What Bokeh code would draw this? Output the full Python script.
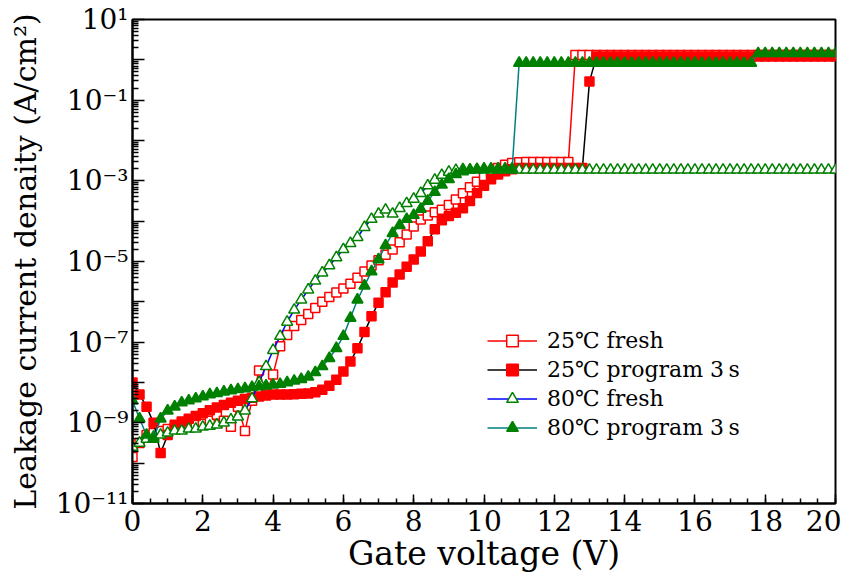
from bokeh.plotting import figure
from bokeh.models import FixedTicker, CustomJSTickFormatter, Legend, LegendItem, Range1d
from bokeh.embed import file_html
from bokeh.resources import INLINE

# Gate voltage sweep (V)
voltage = [
    0.0, 0.2, 0.4, 0.6, 0.8, 1.0, 1.2, 1.4, 1.6, 1.8,
    2.0, 2.2, 2.4, 2.6, 2.8, 3.0, 3.2, 3.4, 3.6, 3.8,
    4.0, 4.2, 4.4, 4.6, 4.8, 5.0, 5.2, 5.4, 5.6, 5.8,
    6.0, 6.2, 6.4, 6.6, 6.8, 7.0, 7.2, 7.4, 7.6, 7.8,
    8.0, 8.2, 8.4, 8.6, 8.8, 9.0, 9.2, 9.4, 9.6, 9.8,
    10.0, 10.2, 10.4, 10.6, 10.8, 11.0, 11.2, 11.4, 11.6, 11.8,
    12.0, 12.2, 12.4, 12.6, 12.8, 13.0, 13.2, 13.4, 13.6, 13.8,
    14.0, 14.2, 14.4, 14.6, 14.8, 15.0, 15.2, 15.4, 15.6, 15.8,
    16.0, 16.2, 16.4, 16.6, 16.8, 17.0, 17.2, 17.4, 17.6, 17.8,
    18.0, 18.2, 18.4, 18.6, 18.8, 19.0, 19.2, 19.4, 19.6, 19.8,
    20.0,
]

# log10 of leakage current density (A/cm^2)
log10_j_25_fresh = [
    -9.85, -9.5, -9.3, -9.25, -9.2, -9.15, -9.12, -9.1, -9.07, -9.05,
    -9.02, -8.95, -8.8, -8.95, -9.1, -8.6, -9.2, -8.45, -7.7, -8.3,
    -7.8, -7.1, -6.82, -6.6, -6.45, -6.3, -6.15, -6.0, -5.88, -5.77,
    -5.67, -5.55, -5.4, -5.25, -5.1, -4.97, -4.83, -4.7, -4.52, -4.33,
    -4.13, -3.96, -3.86, -3.78, -3.72, -3.6, -3.46, -3.31, -3.16, -3.02,
    -2.88, -2.78, -2.68, -2.6, -2.56, -2.54, -2.53, -2.53, -2.53, -2.53,
    -2.53, -2.53, -2.53, 0.12, 0.12, 0.12, 0.12, 0.12, 0.12, 0.12,
    0.12, 0.12, 0.12, 0.12, 0.12, 0.12, 0.12, 0.12, 0.12, 0.12,
    0.12, 0.12, 0.12, 0.12, 0.12, 0.12, 0.12, 0.12, 0.12, 0.12,
    0.12, 0.12, 0.12, 0.12, 0.12, 0.12, 0.12, 0.12, 0.12, 0.12,
    0.12,
]
log10_j_25_program = [
    -8.0, -8.3, -8.6, -9.0, -9.75, -9.3, -9.05, -8.97, -8.9, -8.83,
    -8.76, -8.69, -8.62, -8.56, -8.5, -8.45, -8.41, -8.38, -8.35, -8.32,
    -8.3, -8.3, -8.3, -8.29, -8.28, -8.27, -8.24, -8.18, -8.08, -7.93,
    -7.73, -7.48, -7.15, -6.75, -6.36, -6.02, -5.76, -5.52, -5.32, -5.13,
    -4.95, -4.75, -4.5, -4.2, -3.98, -3.87, -3.79, -3.68, -3.5, -3.3,
    -3.12, -2.96, -2.84, -2.76, -2.71, -2.68, -2.68, -2.68, -2.68, -2.68,
    -2.68, -2.68, -2.68, -2.68, -2.68, -0.54, 0.08, 0.08, 0.08, 0.08,
    0.08, 0.08, 0.08, 0.08, 0.08, 0.08, 0.08, 0.08, 0.08, 0.08,
    0.08, 0.08, 0.08, 0.08, 0.08, 0.08, 0.08, 0.08, 0.08, 0.08,
    0.08, 0.08, 0.08, 0.08, 0.08, 0.08, 0.08, 0.08, 0.08, 0.08,
    0.08,
]
log10_j_80_fresh = [
    -9.6, -9.5, -9.4, -9.35, -9.3, -9.25, -9.2, -9.2, -9.15, -9.15,
    -9.1, -9.08, -9.05, -9.0, -8.92, -8.85, -8.7, -8.4, -8.0, -7.6,
    -7.2, -6.85, -6.5, -6.2, -5.95, -5.7, -5.48, -5.28, -5.1, -4.9,
    -4.7, -4.55, -4.4, -4.15, -3.95, -3.82, -3.72, -3.82, -3.68, -3.56,
    -3.45, -3.31, -3.12, -2.98, -2.86, -2.78, -2.74, -2.72, -2.73, -2.73,
    -2.73, -2.73, -2.73, -2.73, -2.73, -2.73, -2.73, -2.73, -2.73, -2.73,
    -2.73, -2.73, -2.73, -2.73, -2.73, -2.73, -2.73, -2.73, -2.73, -2.73,
    -2.73, -2.73, -2.73, -2.73, -2.73, -2.73, -2.73, -2.73, -2.73, -2.73,
    -2.73, -2.73, -2.73, -2.73, -2.73, -2.73, -2.73, -2.73, -2.73, -2.73,
    -2.73, -2.73, -2.73, -2.73, -2.73, -2.73, -2.73, -2.73, -2.73, -2.73,
    -2.73,
]
log10_j_80_program = [
    -8.45, -8.9, -9.3, -9.4, -8.9, -8.7, -8.6, -8.5, -8.45, -8.4,
    -8.35, -8.3, -8.27, -8.23, -8.2, -8.17, -8.15, -8.12, -8.1, -8.08,
    -8.06, -8.04, -8.0, -7.96, -7.92, -7.86, -7.75, -7.6, -7.4, -7.15,
    -6.85, -6.4, -5.95, -5.6, -5.25, -4.95, -4.6, -4.3, -4.1, -3.95,
    -3.85, -3.7, -3.5, -3.28, -3.1, -2.96, -2.84, -2.77, -2.73, -2.71,
    -2.7, -2.7, -2.7, -2.7, -2.7, -0.08, -0.08, -0.08, -0.08, -0.08,
    -0.08, -0.08, -0.08, -0.08, -0.08, -0.08, -0.08, -0.08, -0.08, -0.08,
    -0.08, -0.08, -0.08, -0.08, -0.08, -0.08, -0.08, -0.08, -0.08, -0.08,
    -0.08, -0.08, -0.08, -0.08, -0.08, -0.08, -0.08, -0.08, -0.08, 0.16,
    0.16, 0.16, 0.16, 0.16, 0.16, 0.16, 0.16, 0.16, 0.16, 0.16,
    0.16,
]

labels = ["25\u2103 fresh", "25\u2103 program 3\u2009s", "80\u2103 fresh", "80\u2103 program 3\u2009s"]
x_major_ticks = [0, 2, 4, 6, 8, 10, 12, 14, 16, 18, 20]
y_exponents = list(range(-11, 2))

FONT = "DejaVu Serif"

p = figure(width=841, height=576, output_backend="svg", toolbar_location=None,
           y_axis_type="log", x_range=Range1d(0, 20), y_range=Range1d(1e-11, 10),
           min_border_left=132, min_border_right=6, min_border_top=19, min_border_bottom=73,
           background_fill_color="white", border_fill_color="white")
p.grid.visible = False
p.outline_line_color = "black"
p.outline_line_width = 2
p.outline_line_alpha = 1

series = [
    (log10_j_25_fresh, "red", "square", "white", "red", 9),
    (log10_j_25_program, "black", "square", "red", "red", 9),
    (log10_j_80_fresh, "blue", "triangle", "white", "green", 11),
    (log10_j_80_program, "teal", "triangle", "green", "green", 11),
]

items = []
for (logs, lcol, mk, fcol, mcol, sz), lab in zip(series, labels):
    j = [10 ** v for v in logs]
    lr = p.line(voltage, j, line_color=lcol, line_width=1.5)
    sr = p.scatter(voltage, j, marker=mk, size=sz, fill_color=fcol,
                   line_color=mcol, line_width=1.5)
    items.append(LegendItem(label=lab, renderers=[lr, sr]))

xa = p.xaxis[0]
xa.ticker = FixedTicker(ticks=x_major_ticks,
                        minor_ticks=[t * 0.5 for t in range(0, 41)])
xa.axis_label = "Gate voltage (V)"
ya = p.yaxis[0]
ya.ticker = FixedTicker(ticks=[10.0 ** e for e in y_exponents],
                        minor_ticks=[m * 10.0 ** e for e in y_exponents[:-1] for m in range(2, 10)])
ya.axis_label = "Leakage current denaity (A/cm\u00b2)"
ya.formatter = CustomJSTickFormatter(code="""
const e = Math.round(Math.log10(tick));
if (Math.abs(e) % 2 == 0) { return ""; }
const m = {"-": "\\u207b", "0": "\\u2070", "1": "\\u00b9", "2": "\\u00b2", "3": "\\u00b3",
           "4": "\\u2074", "5": "\\u2075", "6": "\\u2076", "7": "\\u2077", "8": "\\u2078", "9": "\\u2079"};
return "10" + String(e).split("").map(c => m[c]).join("");
""")

for ax in (xa, ya):
    ax.axis_line_width = 2
    ax.axis_line_color = "black"
    ax.major_tick_out = 0
    ax.minor_tick_out = 0
    ax.major_tick_line_width = 1.5
    ax.minor_tick_line_width = 1.5
    ax.major_tick_line_color = "black"
    ax.minor_tick_line_color = "black"
    ax.major_label_text_font = FONT
    ax.major_label_text_font_size = "28px"
    ax.major_label_text_color = "black"
    ax.axis_label_text_font = FONT
    ax.axis_label_text_font_style = "normal"
    ax.axis_label_text_color = "black"

xa.axis_label_text_font_size = "33px"
ya.axis_label_text_font_size = "30px"
xa.major_tick_in = 9
xa.minor_tick_in = 5
xa.major_label_standoff = 6
xa.axis_label_standoff = 0
ya.major_tick_in = 12
ya.minor_tick_in = 6
ya.major_label_standoff = 4
ya.axis_label_standoff = 10

legend = Legend(items=items, location=(355, 61), padding=0, margin=0, spacing=0,
                glyph_width=50, glyph_height=29, label_height=29, label_standoff=10,
                border_line_color=None, background_fill_alpha=0,
                label_text_font=FONT, label_text_font_size="22px",
                label_text_color="black")
p.add_layout(legend)

open("out.html", "w").write(file_html(p, INLINE))
